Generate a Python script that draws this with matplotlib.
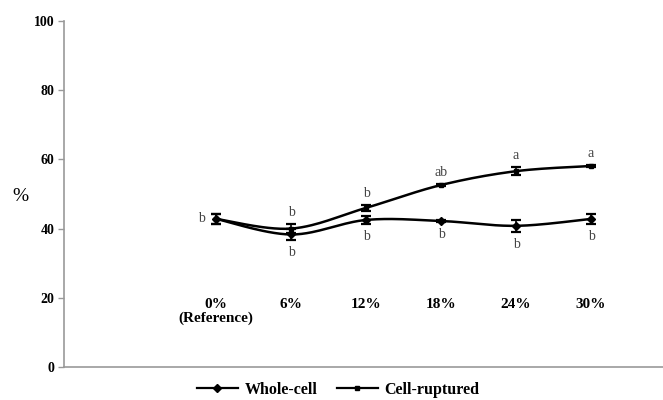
import numpy as np
import matplotlib
matplotlib.use("Agg")
import matplotlib.pyplot as plt
from matplotlib.lines import Line2D

# Données
categories = ["0%\n(Reference)", "6%", "12%", "18%", "24%", "30%"]
whole_cell = [42.8, 38.3, 42.5, 42.2, 40.8, 42.8]
whole_err = [1.4, 1.5, 1.2, 0.3, 1.8, 1.5]
ruptured = [42.8, 40.0, 46.0, 52.6, 56.6, 58.1]
ruptured_err = [1.4, 1.4, 0.8, 0.3, 1.2, 0.3]
whole_letters = ["", "b", "b", "b", "b", "b"]
ruptured_letters = ["", "b", "b", "ab", "a", "a"]
y_ticks = [0, 20, 40, 60, 80, 100]

serif = "Liberation Serif"


def smooth(x, y, n=30):
    # courbe lissée type Excel (Bezier par Catmull-Rom)
    x = np.asarray(x, float)
    y = np.asarray(y, float)
    px = np.concatenate([[x[0]], x, [x[-1]]])
    py = np.concatenate([[y[0]], y, [y[-1]]])
    xs, ys = [], []
    t = np.linspace(0, 1, n)
    for i in range(1, len(x)):
        p0 = np.array([px[i], py[i]])
        p3 = np.array([px[i + 1], py[i + 1]])
        p1 = p0 + (np.array([px[i + 1], py[i + 1]]) - np.array([px[i - 1], py[i - 1]])) / 6
        p2 = p3 - (np.array([px[i + 2], py[i + 2]]) - np.array([px[i], py[i]])) / 6
        b = ((1 - t) ** 3)[:, None] * p0 + (3 * (1 - t) ** 2 * t)[:, None] * p1 \
            + (3 * (1 - t) * t ** 2)[:, None] * p2 + (t ** 3)[:, None] * p3
        xs.append(b[:, 0])
        ys.append(b[:, 1])
    return np.concatenate(xs), np.concatenate(ys)


fig = plt.figure(figsize=(6.63, 4), dpi=100)
ax = fig.add_axes([64 / 663, 33 / 400, 599 / 663, 346 / 400])

x = np.arange(len(categories))

for vals, err, marker, ms in [(whole_cell, whole_err, "D", 4),
                              (ruptured, ruptured_err, "s", 3.5)]:
    sx, sy = smooth(x, vals)
    ax.plot(sx, sy, color="black", lw=1.8, zorder=3)
    ax.errorbar(x, vals, yerr=err, fmt=marker, color="black", ms=ms,
                ecolor="black", elinewidth=1.2, capsize=3.5, capthick=1.6, zorder=4)

# lettres de significativité
for i in range(len(x)):
    if ruptured_letters[i]:
        ax.text(x[i], ruptured[i] + ruptured_err[i] + 1.5, ruptured_letters[i],
                ha="center", va="bottom", fontsize=10, color="#444444", family=serif)
    if whole_letters[i]:
        ax.text(x[i], whole_cell[i] - whole_err[i] - 1.8, whole_letters[i],
                ha="center", va="top", fontsize=10, color="#444444", family=serif)
ax.text(x[0] - 0.2, ruptured[0], "b", ha="center", va="center",
        fontsize=10, color="#444444", family=serif)

# étiquettes de catégories à l'intérieur du graphique
for i, lab in enumerate(categories):
    ax.text(x[i], 20.0, lab, ha="center", va="top", fontsize=11,
            fontweight="bold", family=serif, linespacing=1.05)

ax.set_xlim(-2.03, 5.96)
ax.set_ylim(0, 100)
ax.set_xticks([])
ax.set_yticks(y_ticks)
ax.set_yticklabels([str(v) for v in y_ticks], fontsize=10, fontweight="bold",
                   family=serif)
ax.tick_params(axis="y", length=4, color="#999999", width=1, pad=3)
for s in ["top", "right"]:
    ax.spines[s].set_visible(False)
for s in ["left", "bottom"]:
    ax.spines[s].set_color("#999999")
    ax.spines[s].set_linewidth(1.2)

fig.text(20 / 663, 1 - 197 / 400, "%", fontsize=14, family=serif,
         ha="center", va="center")

handles = [Line2D([], [], color="black", lw=1.6, marker="D", ms=4),
           Line2D([], [], color="black", lw=1.6, marker="s", ms=3.5)]
fig.legend(handles, ["Whole-cell", "Cell-ruptured"], loc="center",
           bbox_to_anchor=(0.51, 0.025), ncol=2, frameon=False,
           handlelength=2.6, columnspacing=1.2, handletextpad=0.4,
           prop={"family": serif, "weight": "bold", "size": 11.5})

fig.savefig("out.png", dpi=100)
